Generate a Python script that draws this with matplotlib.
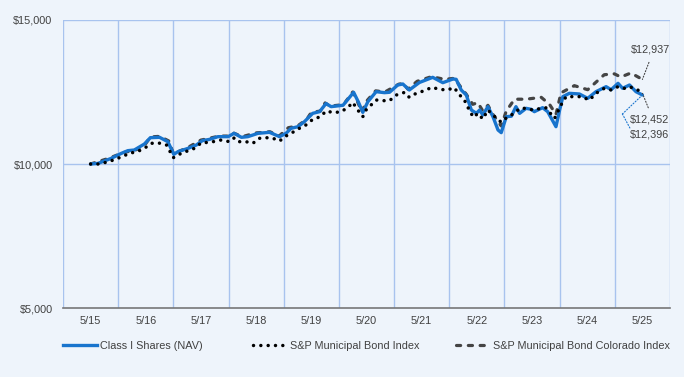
import matplotlib
matplotlib.use("Agg")
import matplotlib.pyplot as plt
from matplotlib.lines import Line2D
from matplotlib.transforms import offset_copy

# ---------------- data (month index from 5/15, growth of $10,000) ----------------
tick_labels = ["5/15", "5/16", "5/17", "5/18", "5/19", "5/20", "5/21", "5/22", "5/23", "5/24", "5/25"]
tick_months = [0, 12, 24, 36, 48, 60, 72, 84, 96, 108, 120]

nav_months = [0, 1.6, 4.5, 6.7, 8.1, 9.5, 11.7, 13.0, 15.0, 16.8, 18.1, 19.0, 21.2, 23.0, 24.3, 25.9,
              27.7, 29.9, 31.2, 32.8, 34.2, 36.4, 38.9, 41.1, 42.5, 43.6, 45.1, 46.5, 48.3, 49.8,
              51.2, 52.3, 54.9, 57.2, 58.2, 59.2, 60.3, 62.1, 63.9, 65.0, 66.8, 67.9, 69.3, 71.5,
              74.4, 76.6, 78.8, 79.5, 80.6, 81.7, 82.8, 83.9, 84.6, 85.3, 86.4, 87.5, 88.6, 89.3,
              90.4, 91.5, 92.5, 93.3, 94.7, 95.8, 96.5, 98.3, 99.4, 101.2, 102.0, 102.7, 104.1,
              106.3, 108.1, 109.9, 112.1, 113.2, 114.7, 115.7, 117.2, 118.6, 120]
nav_values = [10000, 10020, 10197, 10370, 10463, 10486, 10694, 10914, 10926, 10775, 10336, 10428,
              10544, 10660, 10810, 10856, 10949, 10949, 11065, 10926, 10949, 11065, 11100, 10949,
              11065, 11238, 11296, 11470, 11759, 11817, 12100, 11991, 12040, 12488, 12164, 11794,
              12164, 12511, 12477, 12490, 12743, 12778, 12569, 12830, 13009, 12824, 12951, 12940,
              12569, 12396, 11875, 11759, 11875, 11701, 11991, 11643, 11181, 11088, 11643, 11660,
              11991, 11759, 11933, 11900, 11817, 11956, 11817, 11296, 11875, 12338, 12454, 12431,
              12280, 12511, 12685, 12580, 12801, 12627, 12743, 12511, 12396]

muni_months = [0, 1.6, 3.4, 5.2, 6.8, 8.5, 10.3, 11.7, 13.2, 14.8, 16.5, 18.0, 19.7, 22.6, 24.1,
               25.9, 28.4, 30.2, 31.3, 32.4, 33.8, 35.3, 36.6, 38.2, 39.7, 41.1, 42.5, 44.2, 45.4,
               47.1, 48.3, 50.0, 51.2, 52.9, 54.5, 56.0, 57.0, 58.1, 59.2, 59.9, 61.0, 62.1, 63.6,
               65.0, 66.5, 68.3, 69.3, 70.8, 72.6, 74.2, 75.9, 77.5, 79.1, 80.1, 81.0, 81.7, 82.4,
               83.3, 84.2, 85.3, 86.4, 87.5, 89.3, 90.7, 92.2, 93.3, 94.7, 96.2, 98.0, 99.0, 100.9,
               102.3, 103.4, 104.9, 106.7, 108.5, 109.9, 111.7, 113.2, 114.7, 116.1, 117.2, 119.0, 120]
muni_values = [10000, 10000, 10058, 10150, 10255, 10370, 10440, 10544, 10718, 10730, 10660, 10220,
               10370, 10544, 10740, 10750, 10833, 10775, 10914, 10775, 10775, 10718, 10890, 10914,
               10890, 10799, 10972, 11122, 11238, 11377, 11551, 11643, 11840, 11782, 11817, 11968,
               12140, 11875, 11643, 11875, 12049, 12222, 12199, 12199, 12396, 12488, 12315, 12454,
               12546, 12662, 12593, 12569, 12650, 12419, 12280, 12106, 11840, 11620, 11759, 11562,
               11875, 11700, 11450, 11643, 11759, 11933, 11933, 11875, 11933, 11950, 11585, 12049,
               12338, 12338, 12338, 12222, 12454, 12627, 12569, 12685, 12627, 12685, 12569, 12452]

colo_months = [0, 4, 7, 10, 12, 13, 15, 17, 18, 21, 24, 28, 30, 31, 33, 36, 39, 41, 43, 45, 47, 48,
               50, 51, 52, 55, 57, 58, 59, 60, 62, 64, 67, 68, 69, 71, 74.1, 77.0, 79.1, 80.6, 81.7,
               83.1, 84.2, 85.3, 86.4, 87.5, 89.3, 90.4, 92.2, 94.7, 98.0, 99.8, 101.2, 102.3, 105.2,
               108.1, 111.7, 113.9, 115.3, 117.5, 120]
colo_values = [10000, 10200, 10390, 10500, 10710, 10940, 10960, 10800, 10360, 10560, 10830, 10970,
               10970, 11080, 10950, 11080, 11120, 10970, 11260, 11320, 11550, 11790, 11840, 12120,
               12010, 12060, 12500, 12180, 11810, 12180, 12540, 12500, 12770, 12800, 12600, 12870,
               13032, 12940, 12975, 12650, 12420, 12072, 12130, 11840, 12037, 11720, 11320, 11840,
               12250, 12250, 12315, 12072, 11720, 12470, 12720, 12580, 13100, 13130, 13020, 13160,
               12937]

series_names = ["Class I Shares (NAV)", "S&P Municipal Bond Index", "S&P Municipal Bond Colorado Index"]
end_labels = ["$12,396", "$12,452", "$12,937"]

# ---------------- style ----------------
BG = "#eef4fb"
GRID = "#a8c3ee"
BLUE = "#1874cd"
DARK = "#444444"
TXT = "#404040"
FONT = ["Liberation Sans", "DejaVu Sans"]
plt.rcParams["font.family"] = FONT

fig = plt.figure(figsize=(6.84, 3.77), dpi=100, facecolor=BG)
ax = fig.add_axes([63 / 684, 1 - 308 / 377, (670 - 63) / 684, (308 - 20) / 377])
ax.set_facecolor(BG)

ax.set_xlim(-6, 126)
ax.set_ylim(5000, 15000)

# grid
for gx in range(-6, 127, 12):
    ax.axvline(gx, color=GRID, lw=1.0, zorder=0)
ax.axhline(10000, color=GRID, lw=1.0, zorder=0)
ax.axhline(15000, color=GRID, lw=1.0, zorder=0)
for s in ["top", "left", "right"]:
    ax.spines[s].set_visible(False)
ax.spines["bottom"].set_color("#777777")
ax.spines["bottom"].set_linewidth(1.2)

ax.set_xticks(tick_months)
ax.set_xticklabels(tick_labels)
ax.set_yticks([5000, 10000, 15000])
ax.set_yticklabels(["$5,000", "$10,000", "$15,000"])
ax.tick_params(axis="both", length=0, labelsize=7.8, labelcolor=TXT)
ax.tick_params(axis="x", pad=5.5)
ax.tick_params(axis="y", pad=7.5)

# series
l3, = ax.plot(colo_months, colo_values, color=DARK, lw=2.3, dashes=(1.3, 2.4),
              dash_capstyle="round", solid_joinstyle="round", zorder=2)
l1, = ax.plot(nav_months, nav_values, color=BLUE, lw=2.4, solid_joinstyle="round",
              solid_capstyle="round", zorder=3)
l2, = ax.plot(muni_months, muni_values, color="black", lw=2.5, dashes=(0.01, 2.1),
              dash_capstyle="round", zorder=4)

# end labels with leader lines
def px2pt(v):
    return v * 72 / 100

ann_kw = dict(fontsize=7.8, color=TXT, ha="left", va="center", annotation_clip=False)
ax.annotate(end_labels[2], xy=(colo_months[-1], colo_values[-1]),
            xytext=(px2pt(-12), px2pt(30)), textcoords="offset points",
            arrowprops=dict(arrowstyle="-", color=DARK, lw=0.8, ls=":", shrinkA=4, shrinkB=0,
                            relpos=(0.55, 0.0)), **ann_kw)
ax.annotate(end_labels[1], xy=(muni_months[-1], muni_values[-1]),
            xytext=(px2pt(-13), px2pt(-26)), textcoords="offset points",
            arrowprops=dict(arrowstyle="-", color=DARK, lw=0.8, ls=":", shrinkA=3, shrinkB=0,
                            relpos=(0.55, 1.0)), **ann_kw)
# blue two-segment leader: endpoint -> elbow -> label
elbow_tr = offset_copy(ax.transData, fig=fig, x=px2pt(-20), y=px2pt(-19), units="points")
label_tr = offset_copy(ax.transData, fig=fig, x=px2pt(-12), y=px2pt(-34), units="points")
end_pt = (nav_months[-1], nav_values[-1])
ax.annotate("", xy=end_pt, xytext=end_pt, textcoords=elbow_tr,
            arrowprops=dict(arrowstyle="-", color=BLUE, lw=0.8, ls=":", shrinkA=0, shrinkB=0),
            annotation_clip=False)
ax.annotate("", xy=end_pt, xycoords=label_tr, xytext=end_pt, textcoords=elbow_tr,
            arrowprops=dict(arrowstyle="-", color=BLUE, lw=0.8, ls=":", shrinkA=0, shrinkB=0),
            annotation_clip=False)
ax.annotate(end_labels[0], xy=end_pt,
            xytext=(px2pt(-13), px2pt(-40)), textcoords="offset points", **ann_kw)

# legend: three separate entries at measured positions
h1 = Line2D([], [], color=BLUE, lw=2.4)
h2 = Line2D([], [], color="black", lw=2.5, dashes=(0.01, 2.1), dash_capstyle="round")
h3 = Line2D([], [], color=DARK, lw=2.3, dashes=(1.3, 2.4), dash_capstyle="round")
handles = [h1, h2, h3]
legend_x = [63, 253, 456]
for h, name, lx in zip(handles, series_names, legend_x):
    lg = fig.legend([h], [name], loc="center left", bbox_to_anchor=(lx / 684, 1 - 346 / 377),
                    frameon=False, fontsize=7.8, handlelength=3.1, handletextpad=0.35,
                    borderpad=0, borderaxespad=0, labelcolor=TXT)

fig.savefig("out.png", dpi=100, facecolor=BG)
